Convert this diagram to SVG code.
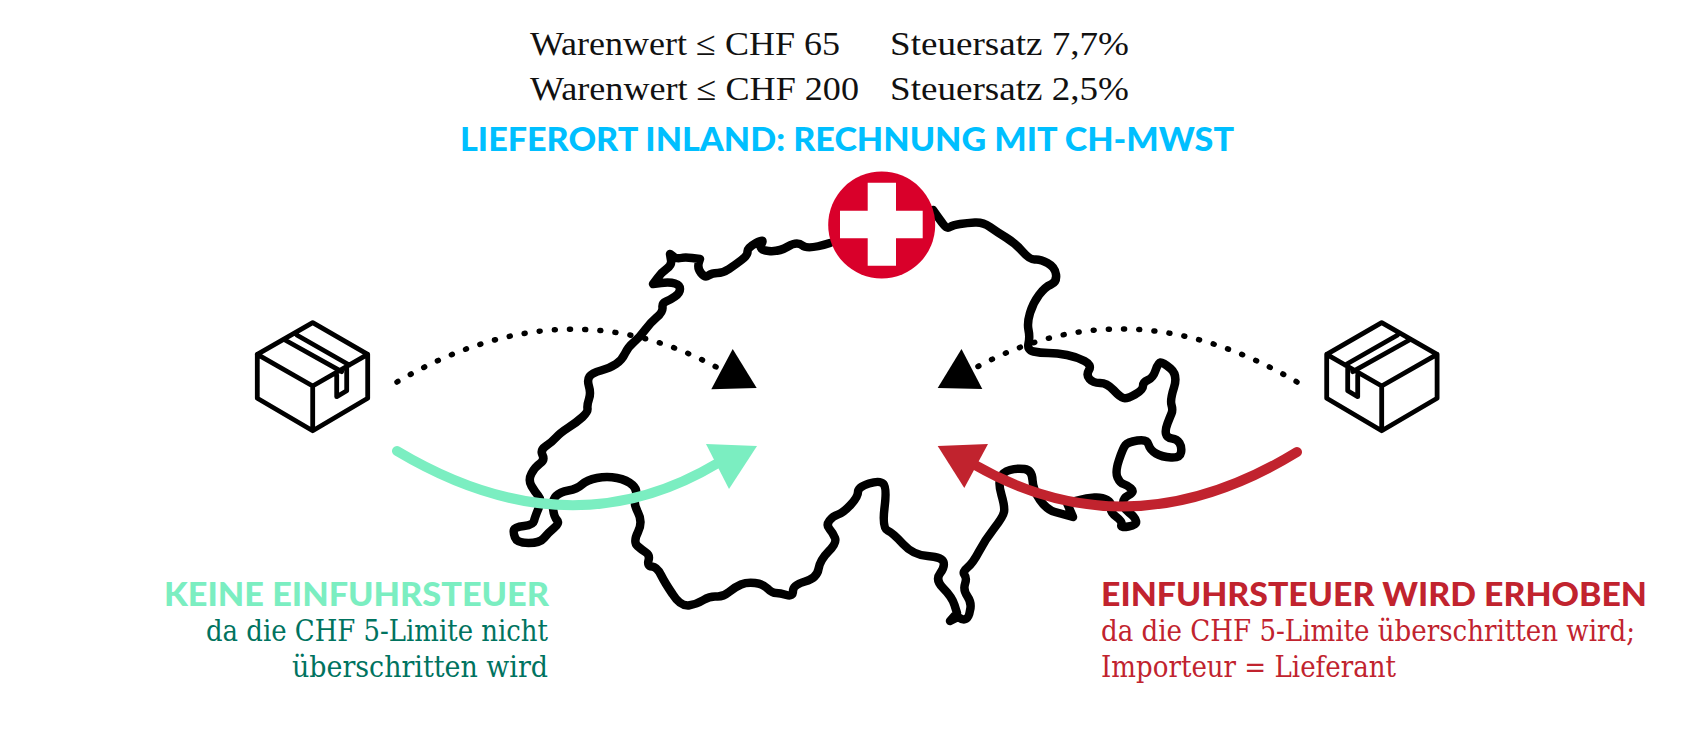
<svg xmlns="http://www.w3.org/2000/svg" width="1690" height="736" viewBox="0 0 1690 736">
<style>
.top{font-family:"Liberation Serif",serif;font-size:34px;fill:#111}
.head{font-family:Lato,"Liberation Sans",sans-serif;font-weight:900;font-size:33px}
.sub{font-family:"DejaVu Serif Condensed","DejaVu Serif",serif;font-size:29.5px}
.map{fill:none;stroke:#000;stroke-width:8.5;stroke-linejoin:round;stroke-linecap:round}
.dots{fill:none;stroke:#000;stroke-width:5.5;stroke-linecap:round;stroke-dasharray:1 14.2}
.box path{fill:none;stroke:#000;stroke-width:4.8;stroke-linejoin:round;stroke-linecap:round}
</style>
<defs>
<g id="parcel" class="box"><path d="M312.7 322.7L367.7 354.3V398.3L312.7 430.7L257.3 398.3V354.3ZM257.3 354.3L312.7 386L367.7 354.3M312.7 386V430.7M285 340L341.7 371.7M296.7 335L349.3 365M336.7 375V396.7L346.7 390.7V368.3"/></g>
</defs>
<rect width="1690" height="736" fill="#fff"/>
<g id="switzerland"><path class="map" d="M830 243Q808 250 802.5 245.5Q797 241 788 246.5Q779 252 768.5 251Q758 250 761.5 244Q765 238 756 243Q747 248 747.5 251.5Q748 255 741.5 260Q735 265 729 269Q723 273 717.5 273Q712 273 708.5 275.5Q705 278 701 273Q697 268 699 262L700 259L692 258Q685 257 681 258Q677 259 674 257L670 254L671 260Q672 265 667 268.5Q662 272 657.5 278L653 284L661 283Q670 282 675 283.5Q680 285 680 289Q680 293 675 296.5Q670 300 666 301.5Q662 303 662.5 307.5Q663 312 656.5 317.5Q650 323 645 330Q640 337 634 342Q628 347 625 353.5Q622 360 616 364Q610 368 601 370.5Q592 373 589.5 376.5Q587 380 589 386.5Q591 393 589 399Q587 405 587.5 408.5Q588 412 582.5 417Q577 422 568.5 427.5Q560 433 556 437.5Q552 442 546 446Q540 450 542.5 455Q545 460 540 463.5Q535 467 531.5 473.5Q528 480 531.5 486Q535 492 538.5 496Q542 500 538.5 508.5Q535 517 534 521Q533 525 524 526Q515 527 514 529.5Q513 532 515 537.5Q517 543 528.5 543Q540 543 544 538Q548 533 554 528Q560 523 557 520Q554 517 553 508.5Q552 500 556 496Q560 492 568.5 490.5Q577 489 582 484.5Q587 480 597 478Q607 476 617 478Q627 480 632.5 485Q638 490 635.5 496.5Q633 503 638 512.5Q643 522 638 532Q633 542 637.5 546Q642 550 646 552.5Q650 555 648.5 560.5Q647 566 652 566.5Q657 567 661 575Q665 583 672.5 594Q680 606 688.5 605.5Q697 604 703.5 600Q710 596 716.5 596.5Q723 597 729 592Q735 587 741 584.5Q747 582 755 583Q763 584 767.5 588.5Q772 593 776 593Q780 593 786.5 595Q793 597 793 591Q793 585 805 581.5Q817 578 818.5 569Q820 560 828.5 551.5Q837 543 835 538Q833 533 829.5 529Q826 525 829.5 520.5Q833 516 838 514.5Q843 513 850.5 505Q858 497 858 492Q858 487 869 483.5Q880 480 883.5 484Q887 488 884.5 508Q882 528 887.5 530.5Q893 533 903 544Q913 555 927.5 556Q942 557 943.5 562Q945 567 940 573.5Q935 580 943.5 588.5Q952 597 954.5 605L957 613L950 621L958 617Q968 624 970 610.5Q972 603 967.5 596.5Q963 590 965 584Q967 578 964.5 575Q962 572 967.5 567.5Q973 563 979 551.5Q985 540 994 528.5Q1003 517 1004 512Q1005 507 1001.5 495Q998 483 1000.5 477.5Q1003 472 1010 470Q1017 468 1024.5 469Q1032 470 1032.5 480Q1033 490 1040 500Q1047 510 1055 512L1073 517L1067 503L1077 500.5Q1087 498 1094.5 497.5Q1102 497 1107 500Q1112 503 1111 507.5Q1110 512 1116.5 517Q1123 522 1121.5 525Q1120 528 1128.5 526.5Q1137 525 1136 521Q1135 517 1129 512.5Q1123 508 1123 503Q1123 498 1129 495Q1135 492 1131 488.5Q1127 485 1123.5 484Q1120 483 1117.5 477.5Q1115 472 1119 460Q1123 448 1125.5 445Q1128 442 1137.5 440.5Q1147 439 1148.5 444.5Q1150 450 1156 453.5Q1162 457 1171 457.5Q1180 458 1181 452.5Q1182 447 1179.5 443Q1177 439 1172 438.5Q1167 438 1166 434Q1165 430 1167.5 423.5Q1170 417 1171.5 413.5Q1173 410 1171.5 405Q1170 400 1174 387.5Q1178 375 1170.5 368.5Q1163 362 1160.5 362.5Q1158 363 1155.5 370.5Q1153 378 1148 380Q1143 382 1143 386Q1143 390 1135 394.5Q1127 399 1123.5 398Q1120 397 1113.5 390Q1107 383 1100 383Q1093 383 1089.5 379Q1086 375 1089 370Q1092 365 1084.5 361Q1077 357 1067 355Q1057 353 1048.5 353Q1040 353 1033.5 351.5Q1027 350 1028.5 343.5Q1030 337 1028.5 330Q1027 323 1030 313Q1033 303 1039 295Q1045 287 1051 284.5Q1057 282 1056 274.5Q1055 267 1047.5 263Q1040 259 1035 259.5Q1030 260 1022.5 251.5Q1015 243 1006 237.5Q997 232 990 227Q983 222 975 222.5Q967 223 960 224Q953 225 950 227Q947 229 943.5 224.5Q940 220 933 210"/></g>
<g id="connectors">
<path class="dots" d="M397 382Q564 284 718 368"/>
<path class="dots" d="M1297 382Q1130 284 977 367"/>
<path d="M397 451Q568 553 718 463" fill="none" stroke="#7beec1" stroke-width="10" stroke-linecap="round"/>
<path d="M1297 452Q1130 554 975 465" fill="none" stroke="#c1232e" stroke-width="10" stroke-linecap="round"/>
<polygon points="706,444 757,446 729,489" fill="#7beec1"/>
<polygon points="988,444 937.7,446 964.3,488" fill="#c1232e"/>
<polygon points="732.7,349 711.3,389.3 756.7,388" fill="#000"/>
<polygon points="961.5,349 937.7,388 982.3,389" fill="#000"/>
</g>
<g id="flag"><circle cx="881.7" cy="225" r="53.5" fill="#d9002a"/><path d="M867.7 182.7H896V210.7H922.7V238.3H896V265.7H867.7V238.3H840V210.7H867.7Z" fill="#fff"/></g>
<g id="box-left"><use href="#parcel"/></g>
<g id="box-right"><use href="#parcel" transform="matrix(-1 0 0 1 1694.4 0)"/></g>
<g id="rates">
<text class="top" x="530" y="55" textLength="310" lengthAdjust="spacingAndGlyphs">Warenwert ≤ CHF 65</text>
<text class="top" x="890" y="55" textLength="239" lengthAdjust="spacingAndGlyphs">Steuersatz 7,7%</text>
<text class="top" x="530" y="100" textLength="329" lengthAdjust="spacingAndGlyphs">Warenwert ≤ CHF 200</text>
<text class="top" x="890" y="100" textLength="239" lengthAdjust="spacingAndGlyphs">Steuersatz 2,5%</text>
<text class="head" x="460" y="151" fill="#00bfff" textLength="774" lengthAdjust="spacingAndGlyphs">LIEFERORT INLAND: RECHNUNG MIT CH-MWST</text>
</g>
<g id="label-left">
<text class="head" x="164" y="606" fill="#7beec1" textLength="385" lengthAdjust="spacingAndGlyphs">KEINE EINFUHRSTEUER</text>
<text class="sub" x="548" y="641" fill="#00735f" text-anchor="end" textLength="342" lengthAdjust="spacingAndGlyphs">da die CHF 5-Limite nicht</text>
<text class="sub" x="548" y="677" fill="#00735f" text-anchor="end" textLength="256" lengthAdjust="spacingAndGlyphs">überschritten wird</text>
</g>
<g id="label-right">
<text class="head" x="1101" y="606" fill="#c1232e" textLength="546" lengthAdjust="spacingAndGlyphs">EINFUHRSTEUER WIRD ERHOBEN</text>
<text class="sub" x="1101" y="641" fill="#c1232e" textLength="534" lengthAdjust="spacingAndGlyphs">da die CHF 5-Limite überschritten wird;</text>
<text class="sub" x="1101" y="677" fill="#c1232e" textLength="295" lengthAdjust="spacingAndGlyphs">Importeur = Lieferant</text>
</g>
</svg>
